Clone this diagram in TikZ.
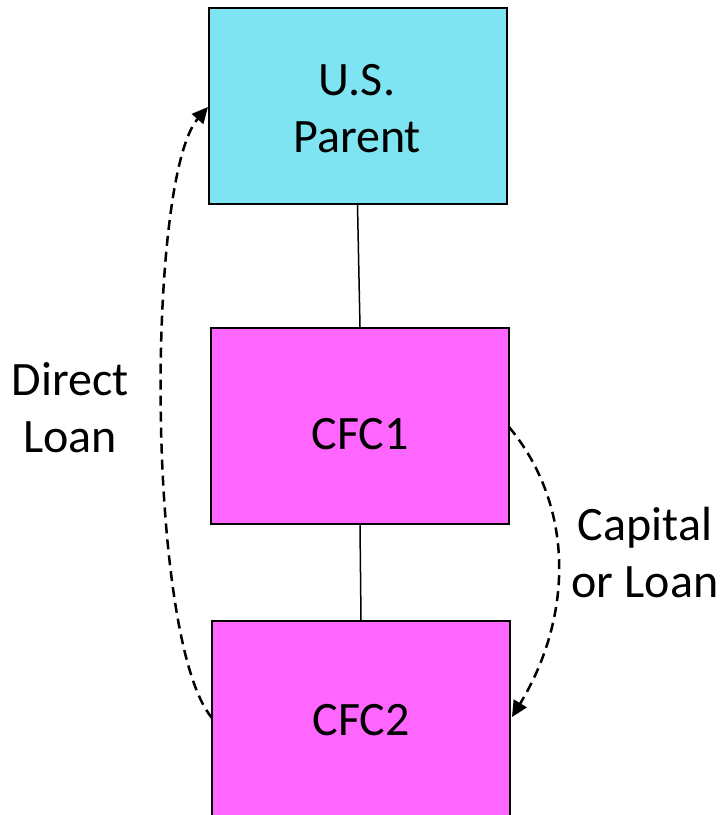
\documentclass[tikz,border=0pt]{standalone}
\usepackage{fontspec}
\setmainfont{Carlito}
\usetikzlibrary{arrows.meta}
\definecolor{parentcol}{RGB}{126,228,242}
\definecolor{cfccol}{RGB}{255,102,255}
\begin{document}
\begin{tikzpicture}[x=1pt,y=-1pt,
  box/.style={draw=black,line width=2pt,minimum width=298pt,minimum height=196pt,inner sep=0pt},
  txt/.style={font=\fontsize{48}{57}\selectfont,align=center,inner sep=0pt},
  conn/.style={line width=1.5pt},
  loan/.style={line width=2.5pt,dash pattern=on 10pt off 6pt,-{Triangle[length=16pt,width=15pt]}}]
\useasboundingbox (0,0) rectangle (722,815);
\clip (0,0) rectangle (722,815);
\node[box,fill=parentcol] (parent) at (357.5,106) {};
\node[box,fill=cfccol] (cfc1) at (360,426) {};
\node[box,fill=cfccol,minimum height=200pt,anchor=north] (cfc2) at (361,620) {};
\node[txt,anchor=base] (pt1) at (357,95) {U.S.};
\node[txt,anchor=base] (pt2) at (357,152) {Parent};
\node[txt,anchor=base] (c1t) at (360,449) {CFC1};
\node[txt,anchor=base] (c2t) at (361,735) {CFC2};
\draw[conn] (parent.south) -- (cfc1.north);
\draw[conn] (cfc1.south) -- (cfc2.north);
\coordinate (s1) at (212,718);
\coordinate (e1) at (208,107);
\coordinate (s2) at (509,427);
\coordinate (e2) at (512,717);
\draw[loan] (s1) .. controls (146,640) and (146,178) .. (e1);
\draw[loan] (s2) .. controls (574,505) and (574,615) .. (e2);
\node[txt,anchor=base] (dl1) at (70,395) {Direct};
\node[txt,anchor=base] (dl2) at (70,452) {Loan};
\node[txt,anchor=base] (cl1) at (645,540) {Capital};
\node[txt,anchor=base] (cl2) at (645,597) {or Loan};
\end{tikzpicture}
\end{document}
